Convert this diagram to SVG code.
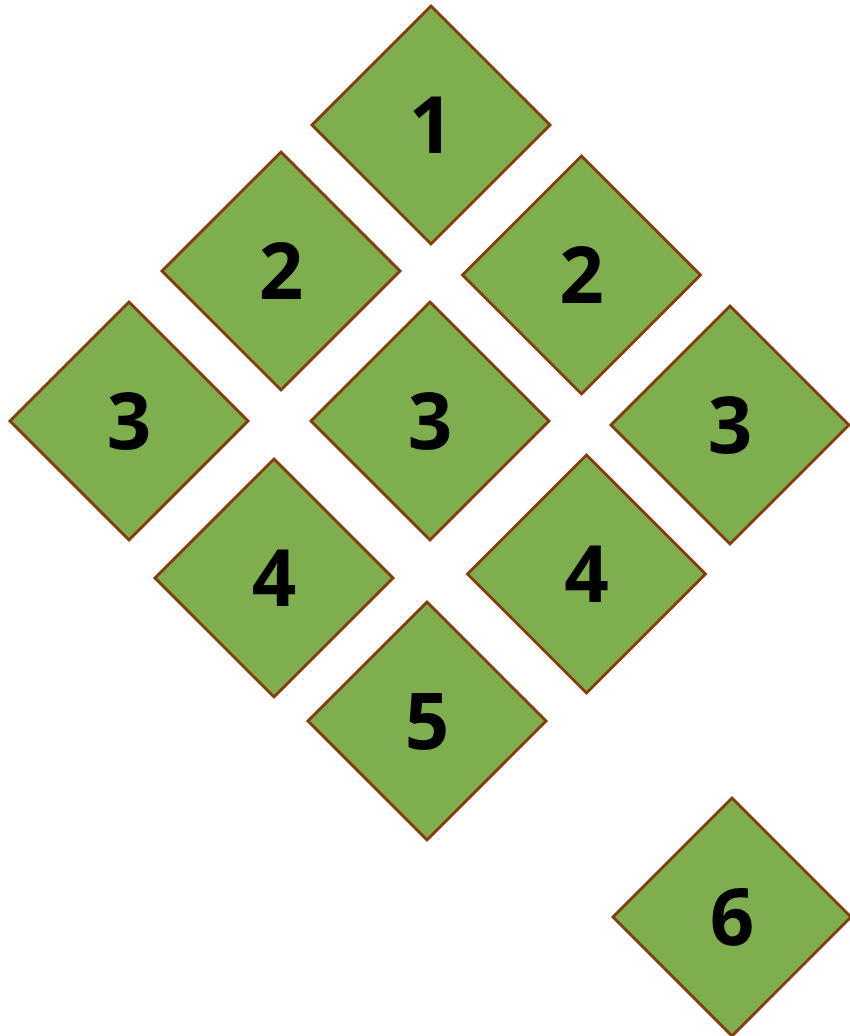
<svg xmlns="http://www.w3.org/2000/svg" xmlns:xlink="http://www.w3.org/1999/xlink" width="850" height="1036" viewBox="0 0 850 1036">
<style>
.d{fill:#7FAE4F;stroke:#843C0C;stroke-width:3;stroke-linejoin:miter}
.t{font-family:"Comic Sans MS","Open Sans","Liberation Sans",sans-serif;font-weight:bold;font-size:78px;fill:#000;text-anchor:middle}
</style>
<defs>
<polygon id="dia" class="d" points="0,-119 119,0 0,119 -119,0"/>
</defs>
<rect width="850" height="1036" fill="#fff"/>
<g id="connectors"/>
<g id="n1" transform="translate(431,125)"><use xlink:href="#dia"/><text class="t" x="0" y="28">1</text></g>
<g id="n2a" transform="translate(281,271)"><use xlink:href="#dia"/><text class="t" x="0" y="28">2</text></g>
<g id="n2b" transform="translate(581.5,275)"><use xlink:href="#dia"/><text class="t" x="0" y="28">2</text></g>
<g id="n3a" transform="translate(129,421)"><use xlink:href="#dia"/><text class="t" x="0" y="28">3</text></g>
<g id="n3b" transform="translate(430,421)"><use xlink:href="#dia"/><text class="t" x="0" y="28">3</text></g>
<g id="n3c" transform="translate(730,425)"><use xlink:href="#dia"/><text class="t" x="0" y="28">3</text></g>
<g id="n4a" transform="translate(274,578)"><use xlink:href="#dia"/><text class="t" x="0" y="28">4</text></g>
<g id="n4b" transform="translate(586.5,574)"><use xlink:href="#dia"/><text class="t" x="0" y="28">4</text></g>
<g id="n5" transform="translate(427,721)"><use xlink:href="#dia"/><text class="t" x="0" y="28">5</text></g>
<g id="n6" transform="translate(732,917)"><use xlink:href="#dia"/><text class="t" x="0" y="28">6</text></g>
</svg>
